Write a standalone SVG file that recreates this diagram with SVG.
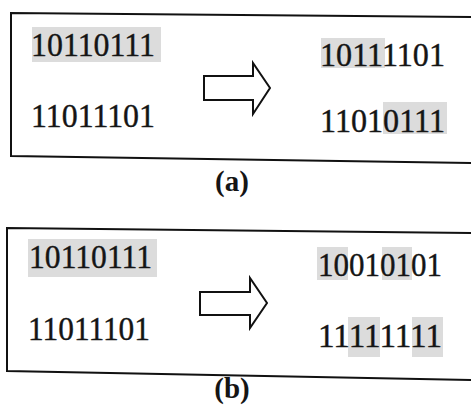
<svg xmlns="http://www.w3.org/2000/svg" width="471" height="405" viewBox="0 0 471 405">
<style>
.frame{fill:none;stroke:#111;stroke-width:2}
.hl{fill:#dcdcdc}
.bits{font-family:"Liberation Serif","Times New Roman",serif;font-size:34px;fill:#151515;stroke:#151515;stroke-width:0.4}
.lab{font-family:"Liberation Serif","Times New Roman",serif;font-size:29px;font-weight:bold;fill:#151515;text-anchor:middle}
.arrow{fill:#fff;stroke:#111;stroke-width:2;stroke-linejoin:miter}
</style>
<rect width="471" height="405" fill="#fff"/>
<g id="panel-a">
<polygon class="frame" points="472,17 11,13 11,156 472,163"/>
<g id="a-left-top"><rect class="hl" x="32" y="27" width="129" height="35"/><text class="bits" x="31" y="56" textLength="124" lengthAdjust="spacingAndGlyphs">10110111</text></g>
<g id="a-left-bottom"><text class="bits" x="31" y="127" textLength="124" lengthAdjust="spacingAndGlyphs">11011101</text></g>
<g id="a-right-top"><rect class="hl" x="321" y="38" width="64" height="30"/><text class="bits" x="320" y="66" textLength="125" lengthAdjust="spacingAndGlyphs">10111101</text></g>
<g id="a-right-bottom"><rect class="hl" x="383" y="102" width="64" height="32"/><text class="bits" x="320" y="132" textLength="125" lengthAdjust="spacingAndGlyphs">11010111</text></g>
<g id="a-arrow"><polygon class="arrow" points="204,76 253,76 253,63 270,88 253,114 253,100 204,100"/></g>
<text class="lab" x="232" y="191">(a)</text>
</g>
<g id="panel-b">
<polygon class="frame" points="472,233 7,228 7,371 472,380"/>
<g id="b-left-top"><rect class="hl" x="28" y="239" width="129" height="38"/><text class="bits" x="29" y="268" textLength="123" lengthAdjust="spacingAndGlyphs">10110111</text></g>
<g id="b-left-bottom"><text class="bits" x="28" y="340" textLength="122" lengthAdjust="spacingAndGlyphs">11011101</text></g>
<g id="b-right-top"><rect class="hl" x="317" y="247" width="31" height="33"/><rect class="hl" x="382" y="247" width="30" height="33"/><text class="bits" x="318" y="276" textLength="124" lengthAdjust="spacingAndGlyphs">10010101</text></g>
<g id="b-right-bottom"><rect class="hl" x="348" y="317" width="32" height="40"/><rect class="hl" x="412" y="317" width="31" height="40"/><text class="bits" x="318" y="347" textLength="124" lengthAdjust="spacingAndGlyphs">11111111</text></g>
<g id="b-arrow"><polygon class="arrow" points="200,292 250,292 250,278 267,303 250,328 250,315 200,315"/></g>
<text class="lab" x="232" y="398">(b)</text>
</g>
</svg>
